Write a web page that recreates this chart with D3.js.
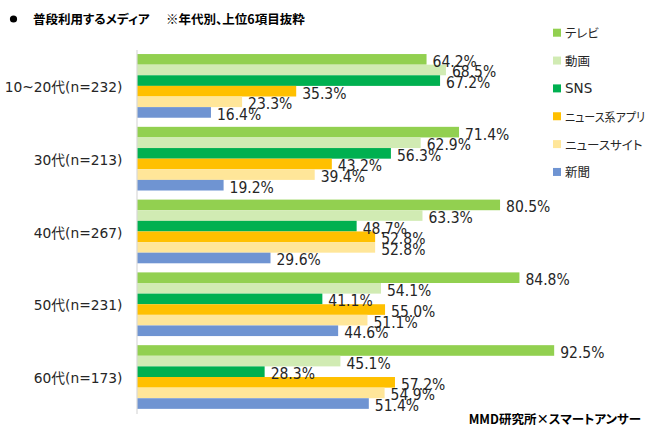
<!DOCTYPE html>
<html><head><meta charset="utf-8">
<script src="https://cdn.jsdelivr.net/npm/d3@7"></script>
<style>
body{margin:0;background:#fff;}
svg text{font-feature-settings:"palt" 1;}
</style></head>
<body><svg id="c" width="658" height="430"></svg>
<script>
const categories = ["10~20代(n=232)","30代(n=213)","40代(n=267)","50代(n=231)","60代(n=173)"];
const seriesNames = ["テレビ","動画","SNS","ニュース系アプリ","ニュースサイト","新聞"];
const tv      = [64.2, 71.4, 80.5, 84.8, 92.5];
const video   = [68.5, 62.9, 63.3, 54.1, 45.1];
const sns     = [67.2, 56.3, 48.7, 41.1, 28.3];
const newsApp = [35.3, 43.2, 52.8, 55.0, 57.2];
const newsSite= [23.3, 39.4, 52.8, 51.1, 54.9];
const paper   = [16.4, 19.2, 29.6, 44.6, 51.4];
const titleMain = "普段利用するメディア";
const titleNote = "※年代別、上位6項目抜粋";
const source = "MMD研究所×スマートアンサー";

const seriesValues = [tv, video, sns, newsApp, newsSite, paper];
const colors = ["#92D050","#D1EBB3","#00B050","#FFC000","#FFE699","#6F94D2"];

const svg = d3.select("#c");
const x = d3.scaleLinear().domain([0,100]).range([137, 588]);
const y0 = d3.scaleBand().domain(categories).range([49.5, 413.4]).paddingInner(0.125).paddingOuter(0.0625);
const y1 = d3.scaleBand().domain(seriesNames).range([0, y0.bandwidth()]);

// title
svg.append("circle").attr("cx",13.5).attr("cy",19).attr("r",3.6).attr("fill","#000");
svg.append("text").attr("x",33).attr("y",24).attr("font-family","Noto Sans CJK JP").attr("font-weight","bold")
  .attr("font-size",12.5).attr("fill","#000").text(titleMain);
svg.append("text").attr("x",166).attr("y",24).attr("font-family","Noto Sans CJK JP").attr("font-weight","bold")
  .attr("font-size",12.5).attr("fill","#000").text(titleNote);

// bars
const groups = svg.append("g").selectAll("g").data(categories).join("g")
  .attr("transform", d => `translate(0,${y0(d)})`);
groups.each(function(cat, ci){
  const g = d3.select(this);
  const rows = seriesNames.map((s, si) => ({s, si, v: seriesValues[si][ci]}));
  g.selectAll("rect").data(rows).join("rect")
    .attr("x", x(0)).attr("y", d => y1(d.s))
    .attr("width", d => x(d.v) - x(0)).attr("height", y1.bandwidth())
    .attr("fill", d => colors[d.si]);
  g.selectAll("text.lab").data(rows).join("text").attr("class","lab")
    .attr("x", d => x(d.v) + 6).attr("y", d => y1(d.s) + y1.bandwidth()/2 + 2.5)
    .attr("dominant-baseline","central")
    .attr("font-family","DejaVu Sans Condensed, DejaVu Sans").attr("font-stretch","condensed")
    .attr("font-size",15.5).attr("fill","#262626")
    .text(d => d.v.toFixed(1) + "%");
});

// axis
const yAxis = d3.axisLeft(y0).tickSize(0).tickPadding(14);
const ag = svg.append("g").attr("transform",`translate(${x(0)-0.5},0)`).call(yAxis);
ag.select(".domain").attr("stroke","#D9D9D9").attr("stroke-width",1.2);
ag.selectAll(".tick text").attr("font-family","DejaVu Sans, Noto Sans CJK JP").attr("font-size",13.8)
  .attr("fill","#262626").attr("dy","0.45em");

// legend
const lg = svg.append("g").selectAll("g").data(seriesNames).join("g")
  .attr("transform", (d,i) => `translate(553,${32.7 + i*27.85})`);
lg.append("rect").attr("x",0).attr("y",-4).attr("width",8).attr("height",8).attr("fill",(d,i)=>colors[i]);
lg.append("text").attr("x",12).attr("y",0).attr("dominant-baseline","central")
  .attr("font-family", (d,i) => i === 2 ? "DejaVu Sans" : "Noto Sans CJK JP")
  .attr("font-size", (d,i) => i === 2 ? 13.5 : 12.5).attr("fill","#262626").text(d=>d)
  .each(function(){
    const w = this.getComputedTextLength();
    const maxW = 80;
    if (w > maxW) d3.select(this).attr("textLength", maxW).attr("lengthAdjust","spacingAndGlyphs");
  });

// source
svg.append("text").attr("x",641).attr("y",424).attr("text-anchor","end")
  .attr("font-family","Noto Sans CJK JP").attr("font-weight","bold").attr("font-size",12.5)
  .attr("fill","#000").text(source);
</script></body></html>
